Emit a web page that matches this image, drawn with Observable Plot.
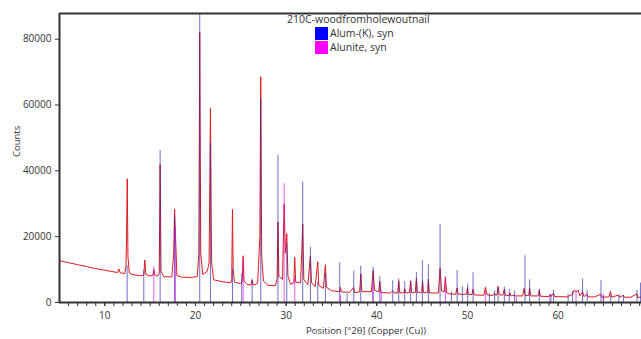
<!DOCTYPE html>
<html><head><meta charset="utf-8">
<script src="https://cdn.jsdelivr.net/npm/d3@7"></script>
<script src="https://cdn.jsdelivr.net/npm/@observablehq/plot@0.6"></script>
<style>
body{margin:0;background:#fff;font-family:"Open Sans",sans-serif;}
#wrap{position:relative;width:641px;height:339px;overflow:hidden;}
.lg{position:absolute;font-size:10.5px;color:#333;white-space:nowrap;line-height:12px;}
.sw{position:absolute;width:13px;height:13px;}
.ttl{position:absolute;font-size:9.5px;color:#333;white-space:nowrap;}
</style></head><body><div id="wrap"></div>
<script>
// Measured pattern (°2θ, counts)
const patternX = [5.0,6.0,7.0,8.0,9.0,10.0,11.0,11.4,11.55,11.7,12.2,12.33,12.4,12.47,12.55,12.7,13.0,14.0,14.3,14.41,14.52,15.0,15.3,15.42,15.5,15.8,16.0,16.1,16.2,16.5,17.4,17.6,17.7,17.8,17.95,18.5,19.5,20.2,20.37,20.47,20.58,20.8,21.3,21.5,21.65,21.78,22.0,23.0,23.9,24.0,24.08,24.16,24.3,25.0,25.15,25.26,25.36,25.7,26.1,26.25,26.35,26.85,26.95,27.1,27.2,27.3,27.5,28.0,28.8,29.0,29.1,29.2,29.6,29.78,29.92,30.07,30.2,30.5,30.85,30.95,31.05,31.6,31.83,31.95,32.4,32.68,32.8,33.2,33.49,33.6,34.1,34.33,34.45,35.0,35.9,36.0,36.1,37.0,37.45,37.55,38.1,38.25,38.35,39.4,39.6,39.75,40.2,40.33,40.45,41.5,41.76,41.9,42.3,42.42,42.55,43.0,43.08,43.2,43.6,43.74,43.85,44.25,44.37,44.5,44.95,45.05,45.15,45.6,45.69,45.8,46.8,46.98,47.15,47.45,47.57,47.7,48.0,48.7,48.86,49.0,49.4,49.9,50.0,50.1,50.5,50.62,50.75,51.8,51.98,52.15,52.8,53.0,53.1,53.25,53.38,53.5,53.9,54.07,54.2,54.6,54.7,54.8,55.2,55.3,56.1,56.25,56.4,56.75,56.86,57.0,57.8,57.93,58.05,59.0,59.1,59.2,59.5,59.6,61.0,61.6,61.8,62.0,62.2,62.4,62.7,62.85,63.2,63.3,64.0,64.7,64.8,65.6,65.77,65.9,66.7,66.8,67.2,67.3,68.0,68.7,68.8,69.2];
const patternY = [12700,12100,11500,10900,10300,9800,9300,9100,10200,9000,8800,11000,20000,37600,14000,9000,8500,8100,8300,12900,8600,8000,8300,10000,8400,8000,9000,41900,9500,7800,7800,15000,28300,20000,8200,7700,7600,7900,15000,82000,15000,8500,9500,12000,59000,12000,6900,6300,6000,7000,28300,10000,6200,5700,6500,14200,6500,5500,5300,6800,5300,5800,11200,20000,68600,14000,6500,5200,5100,7000,24400,8000,7000,30000,15000,20900,8000,5500,6000,13700,6200,6000,23900,7000,5400,14200,6000,4800,12400,5200,4300,11500,4600,3600,3300,4600,3200,3100,4600,3000,3200,8700,3300,3300,9700,3800,3200,6500,3000,2900,3600,2900,2900,6600,2900,3000,4200,2900,3000,6600,3000,3000,7400,3000,3000,6600,3000,3000,7100,2900,2900,10400,3500,3300,7800,3000,2600,2500,4400,2500,2500,2500,4500,2500,2400,4100,2300,2200,4600,2400,2100,2800,2200,2300,4900,2400,2200,4000,2100,2100,2900,2000,2200,2000,2000,4300,2100,2100,4300,2000,2000,3800,1900,1800,2300,1800,2800,1800,1700,2500,3800,3200,3800,2000,3200,1800,2600,1700,1700,2500,1600,1700,3400,1600,2300,1600,2200,1600,1600,2600,1500,1700];

// Reference pattern: Alum-(K), syn
const alumPos = [12.46,14.3,16.1,17.68,20.47,21.65,24.08,25.1,26.25,27.2,29.1,30.07,31.83,32.68,33.49,34.33,35.91,36.73,37.46,38.23,39.6,40.33,41.76,42.42,43.08,43.74,44.37,45.03,45.69,46.98,48.23,48.86,49.44,50.03,50.62,52.42,53.0,53.38,54.07,54.62,55.2,56.35,56.86,57.93,59.2,59.5,61.1,61.6,62.7,63.2,64.73,65.0,65.8,66.7,67.2,68.7,69.1];
const alumCounts = [11200,9700,46200,26400,90000,48400,10200,8700,7100,62000,44700,17800,36600,16800,6100,8700,12000,2600,9500,11000,10700,7800,6600,7100,6400,6400,9100,12700,11500,23700,3200,9700,4800,5600,9000,2500,3500,4300,4700,3900,3500,14200,6900,4100,2500,3700,2500,3400,7100,3700,6600,2000,2200,2000,2000,3700,5900];

// Reference pattern: Alunite, syn
const alunitePos = [15.4,17.8,25.26,29.78,30.95,36.0,39.55,40.5,47.57,51.98,55.4,59.1,61.98,64.98];
const aluniteCounts = [10900,22900,13200,36100,7600,2000,6000,3500,7600,3500,1500,2500,3500,2500];

const xDomain = [5, 69.2];
const yMax = 87800;
const xTicksMajor = [10,20,30,40,50,60];
const yTicks = [0,20000,40000,60000,80000];
const legendTitle = "210C-woodfromholewoutnail";
const seriesNames = ["Alum-(K), syn", "Alunite, syn"];
const seriesColors = ["#0000ff", "#ff00ff"];
const xLabel = "Position [°2θ] (Copper (Cu))";
const yLabel = "Counts";

const pattern = patternX.map((x, i) => ({x, y: patternY[i]}));
const alum = alumPos.map((x, i) => ({x, y: alumCounts[i]}));
const alunite = alunitePos.map((x, i) => ({x, y: aluniteCounts[i]}));

const chart = Plot.plot({
  width: 641, height: 339,
  marginLeft: 59, marginRight: 0, marginTop: 13, marginBottom: 37,
  x: {domain: xDomain},
  y: {domain: [0, yMax]},
  style: {fontFamily: "'Open Sans', sans-serif", fontSize: "10px", color: "#333", background: "white", overflow: "visible"},
  marks: [
    Plot.line(pattern, {x: "x", y: "y", stroke: "#dc1a1f", strokeWidth: 1, clip: true}),
    Plot.ruleX(alum, {x: "x", y1: 0, y2: "y", stroke: "#2020b0", strokeOpacity: 0.65, strokeWidth: 1, clip: true}),
    Plot.ruleX(alunite, {x: "x", y1: 0, y2: "y", stroke: "#e000e0", strokeOpacity: 0.65, strokeWidth: 1, clip: true}),
    Plot.axisY(yTicks, {tickSize: 4, tickPadding: 4, label: null, tickFormat: d => String(d), stroke: "#333"}),
    Plot.axisX(d3.range(6, 70), {tickSize: 4, tickFormat: () => "", label: null, stroke: "#333"}),
    Plot.axisX(xTicksMajor, {tickSize: 4, tickPadding: 5, label: null, stroke: "#333"}),
    Plot.ruleY([0, yMax], {stroke: "#333", strokeWidth: 2}),
    Plot.ruleX([xDomain[0]], {stroke: "#333", strokeWidth: 2})
  ]
});
const wrap = document.getElementById("wrap");
wrap.appendChild(chart);

function addDiv(cls, text, css) {
  const d = document.createElement("div");
  d.className = cls;
  if (text) d.textContent = text;
  Object.assign(d.style, css);
  wrap.appendChild(d);
  return d;
}
addDiv("lg", legendTitle, {left: "287px", top: "13px"});
seriesNames.forEach((n, i) => {
  addDiv("sw", "", {left: "315px", top: (27 + i * 14) + "px", background: seriesColors[i]});
  addDiv("lg", n, {left: "330px", top: (27 + i * 14) + "px"});
});
addDiv("ttl", xLabel, {left: "306px", top: "324px"});
const yl = addDiv("ttl", yLabel, {left: "0px", top: "0px"});
yl.style.transformOrigin = "0 0";
yl.style.transform = "translate(10px, 164px) rotate(-90deg)";
yl.style.transform = "translate(10px, 157px) rotate(-90deg)";
</script></body></html>
